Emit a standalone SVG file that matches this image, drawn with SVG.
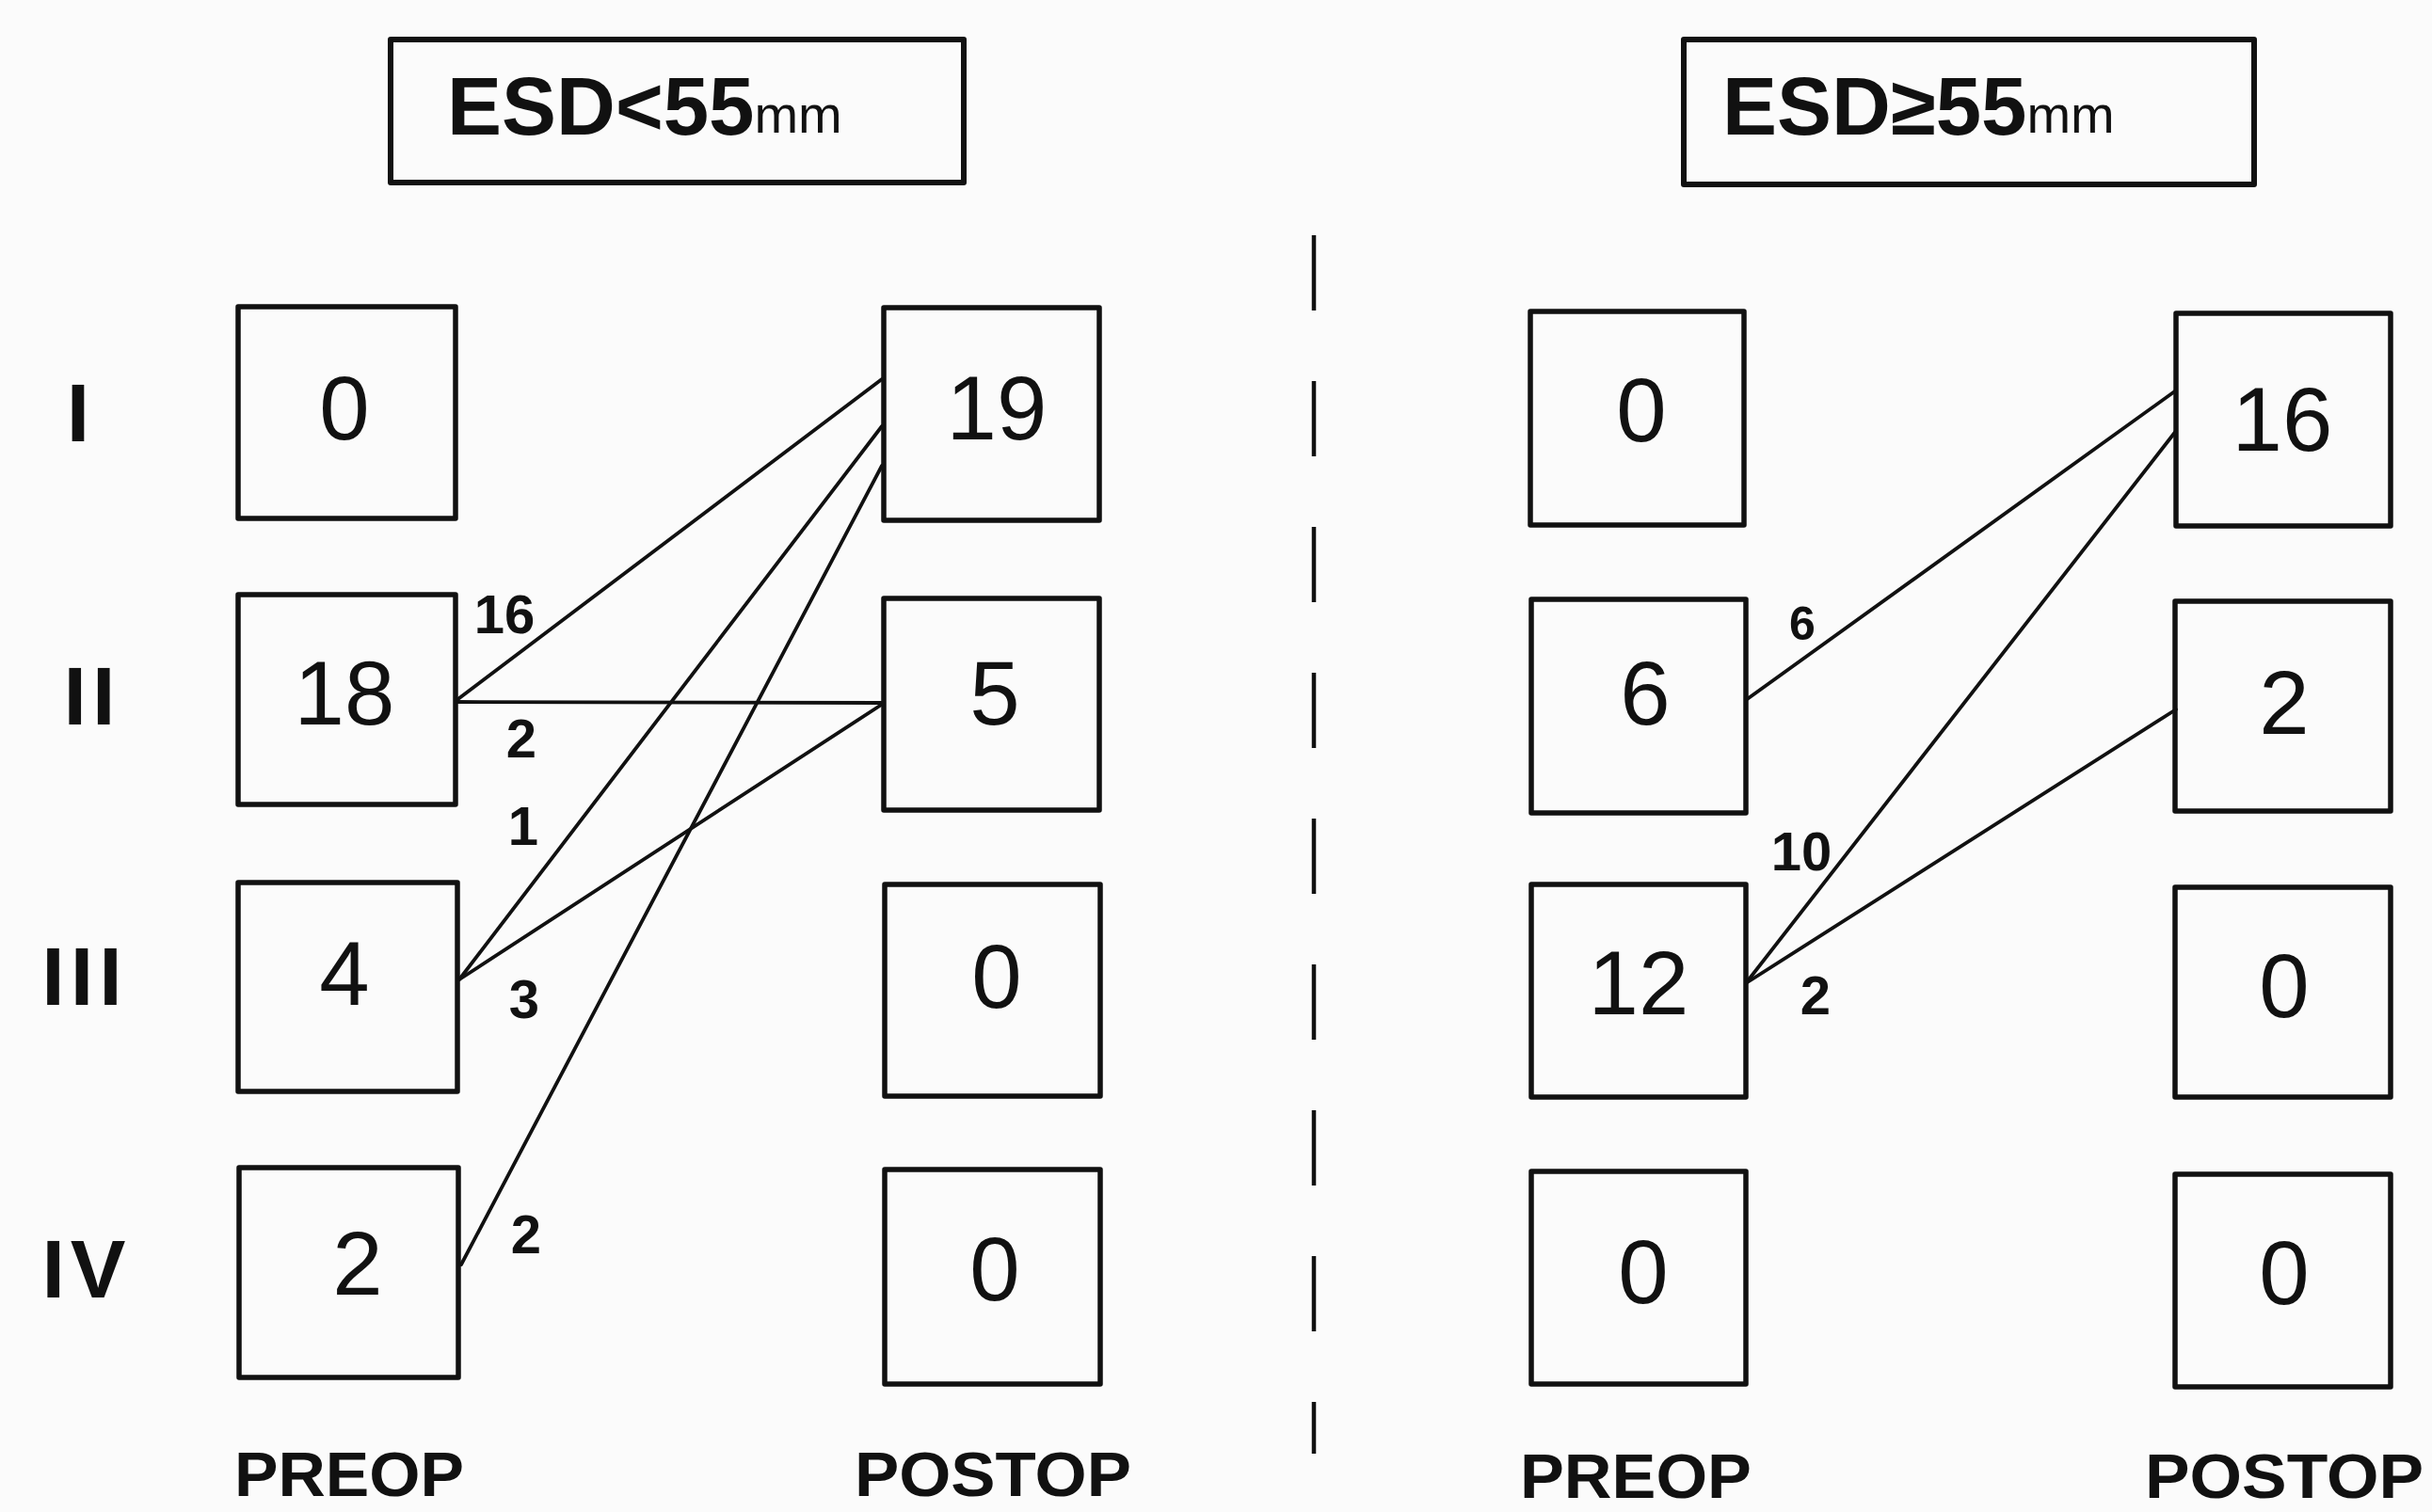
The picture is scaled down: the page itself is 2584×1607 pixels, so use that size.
<svg xmlns="http://www.w3.org/2000/svg" width="2584" height="1607" viewBox="0 0 2584 1607">
<style>
.bg{fill:#fbfbfb}
.box{fill:none;stroke:#111;stroke-width:5.5;stroke-linejoin:round}
.hdr{fill:none;stroke:#111;stroke-width:6;stroke-linejoin:round}
.num{font-family:"Liberation Sans",Arial,sans-serif;font-size:96px;fill:#111;text-anchor:middle}
.row{font-family:"Liberation Sans",Arial,sans-serif;font-size:88px;font-weight:bold;fill:#111;text-anchor:middle;letter-spacing:6px}
.lbl{font-family:"Liberation Sans",Arial,sans-serif;font-size:58px;font-weight:bold;fill:#111;text-anchor:middle}
.title{font-family:"Liberation Sans",Arial,sans-serif;font-size:87px;font-weight:bold;fill:#111}
.unit{font-size:56px;font-weight:normal}
.col{font-family:"Liberation Sans",Arial,sans-serif;font-size:66px;font-weight:bold;fill:#111}
.ln{stroke:#111;stroke-width:3.8;fill:none;stroke-linecap:round}
.dash{stroke:#111;stroke-width:4.5;fill:none;stroke-dasharray:80 75}
</style>
<rect class="bg" x="0" y="0" width="2584" height="1607"/>

<g id="header-left">
<rect class="hdr" x="415" y="42" width="609" height="152"/>
<text class="title" x="475" y="143">ESD&lt;55<tspan class="unit" dy="-2">mm</tspan></text>
</g>
<g id="header-right">
<rect class="hdr" x="1789" y="42" width="606" height="154"/>
<text class="title" x="1830" y="143">ESD≥55<tspan class="unit" dy="-2">mm</tspan></text>
</g>

<g id="row-labels">
<text class="row" x="86" y="469">I</text>
<text class="row" x="98" y="770">II</text>
<text class="row" x="90" y="1068">III</text>
<text class="row" x="92" y="1379">IV</text>
</g>

<g id="divider"><line class="dash" x1="1396" y1="250" x2="1396" y2="1545"/></g>

<g id="connectors">
<line class="ln" x1="484" y1="745" x2="937" y2="403"/>
<line class="ln" x1="484" y1="746" x2="938" y2="747"/>
<line class="ln" x1="488" y1="1041" x2="937" y2="453"/>
<line class="ln" x1="488" y1="1041" x2="938" y2="748"/>
<line class="ln" x1="490" y1="1344" x2="937" y2="495"/>
<line class="ln" x1="1855" y1="744" x2="2312" y2="415"/>
<line class="ln" x1="1855" y1="1045" x2="2312" y2="458"/>
<line class="ln" x1="1855" y1="1045" x2="2312" y2="754"/>
<text class="lbl" x="536" y="673">16</text>
<text class="lbl" x="554" y="805">2</text>
<text class="lbl" x="556" y="898">1</text>
<text class="lbl" x="557" y="1082">3</text>
<text class="lbl" x="559" y="1332">2</text>
<text class="lbl" x="1915" y="680" style="font-size:50px">6</text>
<text class="lbl" x="1914" y="925">10</text>
<text class="lbl" x="1929" y="1078">2</text>
</g>

<g id="L-pre-I"><rect class="box" x="253" y="326" width="231" height="225"/><text class="num" x="366" y="467">0</text></g>
<g id="L-pre-II"><rect class="box" x="253" y="632" width="231" height="223"/><text class="num" x="366" y="770">18</text></g>
<g id="L-pre-III"><rect class="box" x="253" y="938" width="233" height="222"/><text class="num" x="366" y="1068">4</text></g>
<g id="L-pre-IV"><rect class="box" x="254" y="1241" width="233" height="223"/><text class="num" x="380" y="1376">2</text></g>

<g id="L-post-I"><rect class="box" x="939" y="327" width="229" height="226"/><text class="num" x="1059" y="467">19</text></g>
<g id="L-post-II"><rect class="box" x="939" y="636" width="229" height="225"/><text class="num" x="1057" y="770">5</text></g>
<g id="L-post-III"><rect class="box" x="940" y="940" width="229" height="225"/><text class="num" x="1059" y="1071">0</text></g>
<g id="L-post-IV"><rect class="box" x="940" y="1243" width="229" height="228"/><text class="num" x="1057" y="1382">0</text></g>

<g id="R-pre-I"><rect class="box" x="1626" y="331" width="227" height="227"/><text class="num" x="1744" y="469">0</text></g>
<g id="R-pre-II"><rect class="box" x="1627" y="637" width="228" height="227"/><text class="num" x="1748" y="770">6</text></g>
<g id="R-pre-III"><rect class="box" x="1627" y="940" width="228" height="226"/><text class="num" x="1741" y="1078">12</text></g>
<g id="R-pre-IV"><rect class="box" x="1627" y="1245" width="228" height="226"/><text class="num" x="1746" y="1385">0</text></g>

<g id="R-post-I"><rect class="box" x="2312" y="333" width="228" height="226"/><text class="num" x="2425" y="479">16</text></g>
<g id="R-post-II"><rect class="box" x="2311" y="639" width="229" height="223"/><text class="num" x="2427" y="780">2</text></g>
<g id="R-post-III"><rect class="box" x="2311" y="943" width="229" height="223"/><text class="num" x="2427" y="1081">0</text></g>
<g id="R-post-IV"><rect class="box" x="2311" y="1248" width="229" height="226"/><text class="num" x="2427" y="1386">0</text></g>

<g id="column-labels">
<text class="col" x="249" y="1590" textLength="244" lengthAdjust="spacingAndGlyphs">PREOP</text>
<text class="col" x="908" y="1590" textLength="294" lengthAdjust="spacingAndGlyphs">POSTOP</text>
<text class="col" x="1615" y="1592" textLength="246" lengthAdjust="spacingAndGlyphs">PREOP</text>
<text class="col" x="2279" y="1592" textLength="296" lengthAdjust="spacingAndGlyphs">POSTOP</text>
</g>
</svg>
